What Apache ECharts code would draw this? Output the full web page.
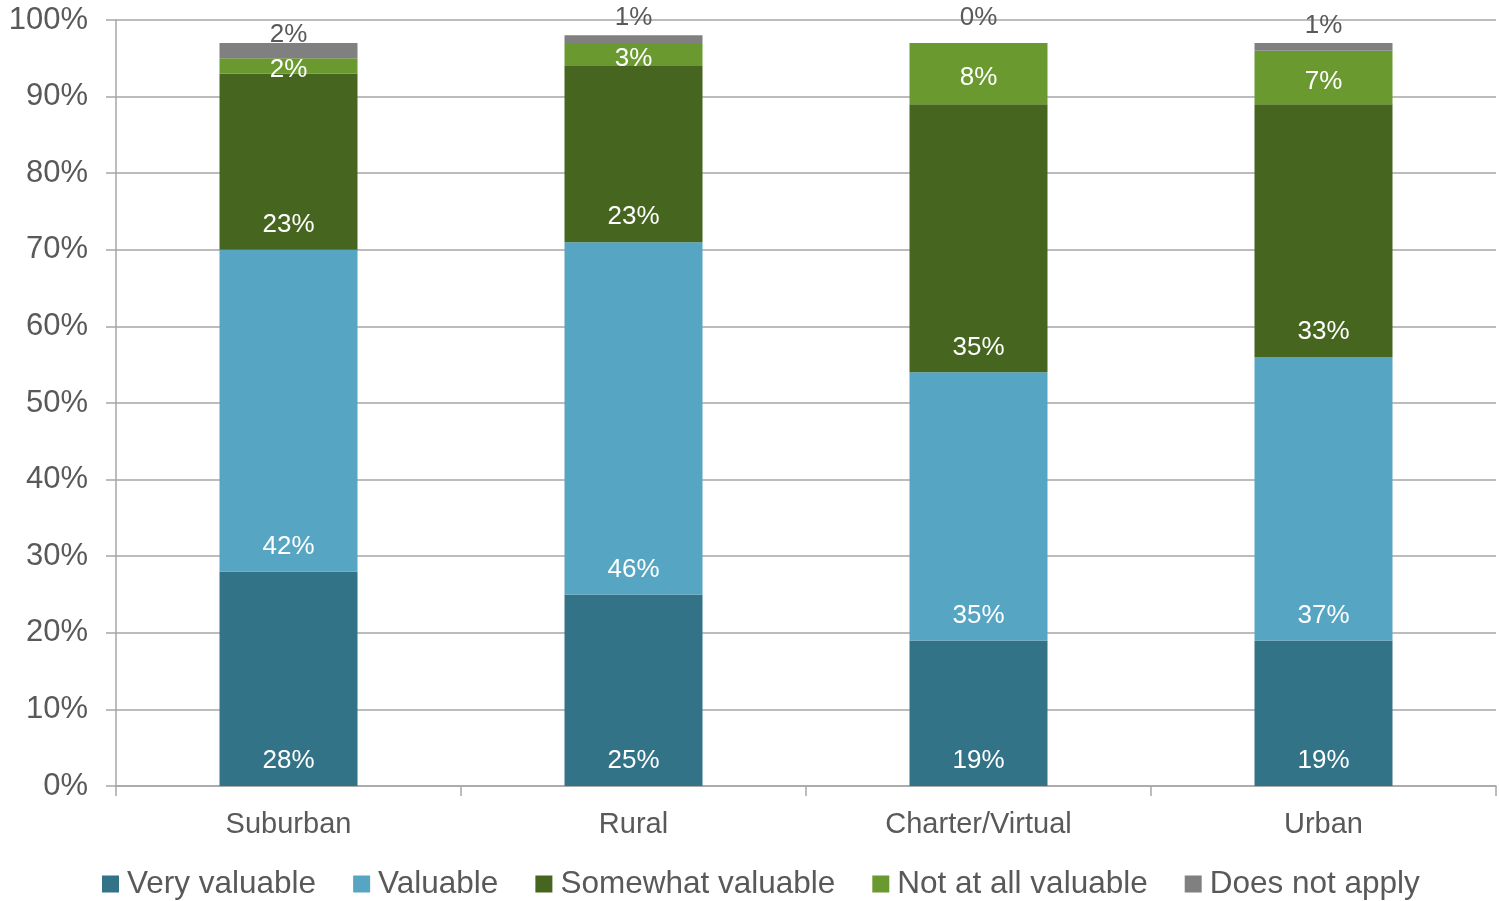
<!DOCTYPE html>
<html>
<head>
<meta charset="utf-8">
<script src="https://cdn.jsdelivr.net/npm/echarts@6/dist/echarts.min.js"></script>
<style>
html,body{margin:0;padding:0;background:#fff;}
#chart{width:1499px;height:901px;}
</style>
</head>
<body>
<div id="chart"></div>
<script>
var categories = ['Suburban', 'Rural', 'Charter/Virtual', 'Urban'];
var veryValuable = [28, 25, 19, 19];
var valuable = [42, 46, 35, 37];
var somewhatValuable = [23, 23, 35, 33];
var notAtAllValuable = [2, 3, 8, 7];
var doesNotApply = [2, 1, 0, 1];
var seriesNames = ['Very valuable', 'Valuable', 'Somewhat valuable', 'Not at all valuable', 'Does not apply'];
var yTicks = [0, 10, 20, 30, 40, 50, 60, 70, 80, 90, 100];

// label offsets for the top segment (style, kept apart from values)
var topLabelShift = [5, -4, -12, -4];

var FONT = '"Liberation Sans", Arial, sans-serif';
var colors = ['#337387', '#56a6c3', '#46651f', '#6a992f', '#808080'];
var axisGray = '#a6a6a6';
var textGray = '#595959';

function whiteLabel(pos, extra) {
  var l = {
    show: true, position: pos, color: '#ffffff', fontSize: 26, fontFamily: FONT,
    formatter: '{c}%'
  };
  if (extra) for (var k in extra) l[k] = extra[k];
  return l;
}

var seriesData = [veryValuable, valuable, somewhatValuable, notAtAllValuable, doesNotApply];
var series = seriesData.map(function (arr, i) {
  var s = {
    name: seriesNames[i], type: 'bar', stack: 'total', barWidth: '40%',
    itemStyle: { color: colors[i] },
    data: arr.slice()
  };
  if (i < 3) {
    s.label = whiteLabel('insideBottom', { distance: 12 });
  } else if (i === 3) {
    s.label = whiteLabel('inside', { offset: [0, 4] });
  } else {
    s.label = { show: true, position: 'top', distance: 0, color: textGray, fontSize: 26, fontFamily: FONT, formatter: '{c}%' };
    s.data = arr.map(function (v, j) {
      return { value: v, label: { offset: [0, topLabelShift[j]] } };
    });
  }
  return s;
});

var chart = echarts.init(document.getElementById('chart'));
chart.setOption({
  animation: false,
  backgroundColor: '#ffffff',
  color: colors,
  grid: { left: 116, right: 3, top: 20, bottom: 115, containLabel: false },
  legend: {
    data: seriesNames,
    left: 97, top: 863,
    itemWidth: 17, itemHeight: 17, itemGap: 37,
    icon: 'rect',
    textStyle: { color: textGray, fontSize: 31.5, fontFamily: FONT, padding: [0, 0, 0, 3] }
  },
  xAxis: {
    type: 'category', data: categories,
    axisLine: { lineStyle: { color: axisGray, width: 1.5 } },
    axisTick: { show: true, length: 10, lineStyle: { color: axisGray, width: 1.5 } },
    axisLabel: { color: textGray, fontSize: 29, fontFamily: FONT, margin: 24 }
  },
  yAxis: {
    type: 'value', min: yTicks[0], max: yTicks[yTicks.length - 1], interval: yTicks[1] - yTicks[0],
    axisLine: { show: true, lineStyle: { color: axisGray, width: 1.5 } },
    axisTick: { show: true, length: 10, lineStyle: { color: axisGray, width: 1.5 } },
    splitLine: { show: true, lineStyle: { color: axisGray, width: 1.5 } },
    axisLabel: { color: textGray, fontSize: 31, fontFamily: FONT, margin: 28, padding: [4, 0, 0, 0], formatter: '{value}%' }
  },
  series: series
});
</script>
</body>
</html>
